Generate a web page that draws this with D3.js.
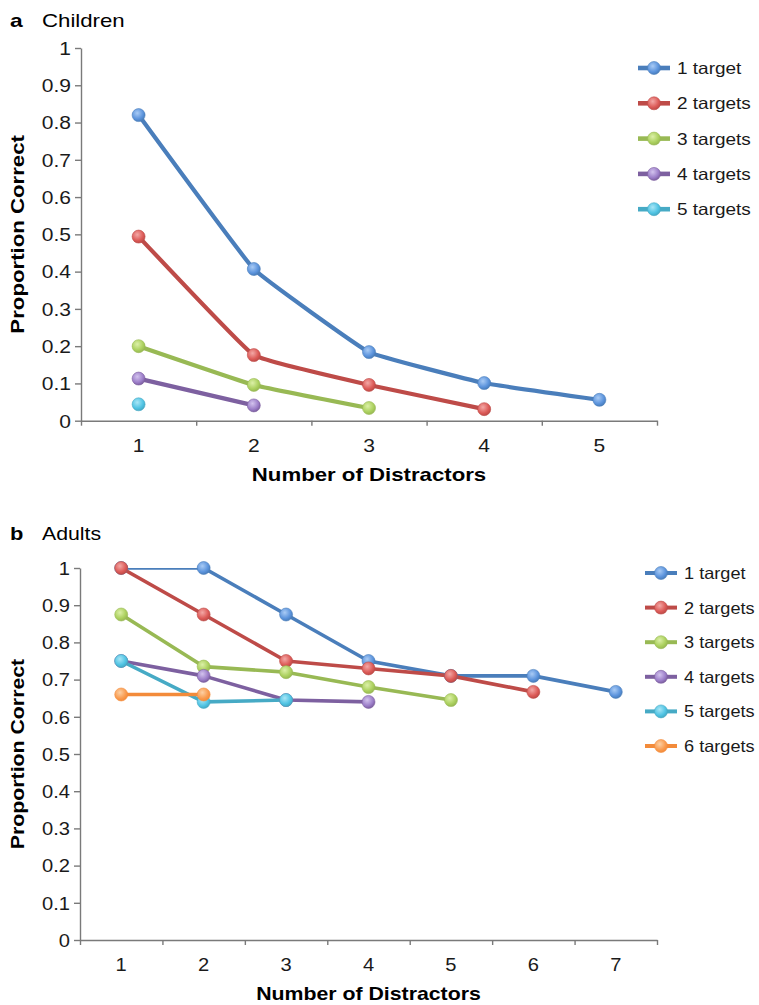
<!DOCTYPE html>
<html>
<head>
<meta charset="utf-8">
<script src="https://cdn.jsdelivr.net/npm/d3@7"></script>
<style>
  html, body { margin: 0; padding: 0; background: #fff; }
  svg { display: block; font-family: "Liberation Sans", Arial, sans-serif; }
</style>
</head>
<body>
<svg id="chart" width="759" height="1005"></svg>
<script>
// ---------- DATA ----------
const childCategories = [1, 2, 3, 4, 5];
const adultCategories = [1, 2, 3, 4, 5, 6, 7];
const yTicks = [0, 0.1, 0.2, 0.3, 0.4, 0.5, 0.6, 0.7, 0.8, 0.9, 1];

const childSeriesNames = ["1 target", "2 targets", "3 targets", "4 targets", "5 targets"];
const child1 = [0.82, 0.407, 0.184, 0.101, 0.056];
const child2 = [0.494, 0.176, 0.096, 0.031];
const child3 = [0.200, 0.096, 0.034];
const child4 = [0.113, 0.041];
const child5 = [0.044];

const adultSeriesNames = ["1 target", "2 targets", "3 targets", "4 targets", "5 targets", "6 targets"];
const adult1 = [1.0, 1.0, 0.875, 0.75, 0.71, 0.71, 0.667];
const adult2 = [1.0, 0.875, 0.75, 0.73, 0.71, 0.667];
const adult3 = [0.875, 0.735, 0.72, 0.68, 0.645];
const adult4 = [0.75, 0.71, 0.645, 0.64];
const adult5 = [0.75, 0.64, 0.645];
const adult6 = [0.66, 0.66];

const panelLetters = ["a", "b"];
const panelTitles = ["Children", "Adults"];
const xTitle = "Number of Distractors";
const yTitle = "Proportion Correct";

// ---------- STYLE ----------
const palette = [
  {line: "#4a7ebb", fill: "#5b93dc", light: "#a9cbf5"},
  {line: "#be4b48", fill: "#dc5a57", light: "#f3a8a6"},
  {line: "#98b954", fill: "#abd05e", light: "#dcf0a8"},
  {line: "#7d60a0", fill: "#9b7dc8", light: "#d3c3ee"},
  {line: "#46aac5", fill: "#4fc3e3", light: "#a9e6f6"},
  {line: "#f38b3a", fill: "#f99b4f", light: "#fcd0a4"}
];

const svg = d3.select("#chart");
const defs = svg.append("defs");
palette.forEach((p, i) => {
  const g = defs.append("radialGradient").attr("id", "mk" + i)
    .attr("cx", "40%").attr("cy", "35%").attr("r", "65%");
  g.append("stop").attr("offset", "0%").attr("stop-color", p.light);
  g.append("stop").attr("offset", "70%").attr("stop-color", p.fill);
  g.append("stop").attr("offset", "100%").attr("stop-color", p.line);
});

function widen(sel, k) {
  sel.each(function () {
    const w = this.getComputedTextLength();
    if (w > 0) d3.select(this).attr("textLength", w * k).attr("lengthAdjust", "spacingAndGlyphs");
  });
}

function drawPanel(cfg) {
  const {cats, series, names, left, right, top, bottom, lineW, curve, legend, idx} = cfg;
  const g = svg.append("g");

  const y = d3.scaleLinear().domain([0, 1]).range([bottom, top]);
  const xb = d3.scaleBand().domain(cats).range([left, right]).paddingInner(0).paddingOuter(0);
  const xEdge = d3.scaleLinear().domain([0.5, cats.length + 0.5]).range([left, right]);
  const cx = c => xb(c) + xb.bandwidth() / 2;

  defs.append("clipPath").attr("id", "clip" + idx)
    .append("rect").attr("x", left).attr("y", top).attr("width", right - left).attr("height", bottom - top + 10);

  const yAxis = d3.axisLeft(y).tickValues(yTicks)
    .tickFormat(d => (d === 0 ? "0" : d === 1 ? "1" : d3.format(".1f")(d)))
    .tickSize(6).tickSizeOuter(0).tickPadding(4);
  const ya = g.append("g").attr("transform", `translate(${left},0)`).call(yAxis);

  const xAxisTicks = d3.axisBottom(xEdge).tickValues(d3.range(0.5, cats.length + 1, 1))
    .tickFormat("").tickSize(5).tickSizeOuter(0);
  const xa = g.append("g").attr("transform", `translate(0,${bottom})`).call(xAxisTicks);
  const xAxisLabels = d3.axisBottom(xb).tickSize(0).tickPadding(19);
  const xl = g.append("g").attr("transform", `translate(0,${bottom})`).call(xAxisLabels);
  xl.select(".domain").remove();

  [ya, xa].forEach(a => {
    a.selectAll(".domain").attr("stroke", "#7a7a7a").attr("stroke-width", 1.4);
    a.selectAll(".tick line").attr("stroke", "#7a7a7a").attr("stroke-width", 1.4);
  });
  [ya, xl].forEach(a => a.selectAll("text").attr("font-size", 17.5).attr("fill", "#1a1a1a")
    .attr("font-family", "Liberation Sans, Arial, sans-serif"));
  ya.selectAll("text").attr("dy", "0.36em");

  const line = d3.line().x((d, i) => cx(cats[i])).y(d => y(d)).curve(curve);
  const lg = g.append("g").attr("clip-path", `url(#clip${idx})`);
  series.forEach((s, si) => {
    if (s.length > 1) {
      lg.append("path").attr("d", line(s)).attr("fill", "none")
        .attr("stroke", palette[si].line).attr("stroke-width", lineW)
        .attr("stroke-linejoin", "round").attr("stroke-linecap", "round");
    }
  });
  series.forEach((s, si) => {
    g.selectAll(null).data(s).enter().append("circle")
      .attr("cx", (d, i) => cx(cats[i])).attr("cy", d => y(d)).attr("r", 6.5)
      .attr("fill", `url(#mk${si})`).attr("stroke", palette[si].line).attr("stroke-width", 0.6);
  });

  g.append("text").attr("x", 10).attr("y", cfg.titleY).attr("font-size", 19).attr("font-weight", "bold").text(panelLetters[idx]);
  g.append("text").attr("x", 42).attr("y", cfg.titleY).attr("font-size", 18.5).text(panelTitles[idx]);
  g.append("text").attr("x", (left + right) / 2).attr("y", cfg.xTitleY).attr("text-anchor", "middle")
    .attr("font-size", 18.5).attr("font-weight", "bold").text(xTitle);
  g.append("text").attr("transform", `translate(24,${(top + bottom) / 2}) rotate(-90)`)
    .attr("text-anchor", "middle").attr("font-size", 18.5).attr("font-weight", "bold").text(yTitle);

  widen(g.selectAll("text"), cfg.widen);

  // legend (widened separately)
  const lgd = svg.append("g");
  names.forEach((n, i) => {
    const ly = legend.y0 + i * legend.dy;
    lgd.append("line").attr("x1", legend.x).attr("x2", legend.x + 32).attr("y1", ly).attr("y2", ly)
      .attr("stroke", palette[i].line).attr("stroke-width", lineW + 0.4);
    lgd.append("circle").attr("cx", legend.x + 16).attr("cy", ly).attr("r", 6.5)
      .attr("fill", `url(#mk${i})`).attr("stroke", palette[i].line).attr("stroke-width", 0.6);
    lgd.append("text").attr("x", legend.x + 39).attr("y", ly).attr("dy", "0.36em")
      .attr("font-size", legend.fs).attr("fill", "#1a1a1a").text(n);
  });
  widen(lgd.selectAll("text"), legend.widen);
}

drawPanel({
  idx: 0, cats: childCategories, series: [child1, child2, child3, child4, child5], names: childSeriesNames,
  left: 81, right: 657, top: 48, bottom: 420.7, lineW: 4.2, curve: d3.curveCardinal.tension(0.75),
  legend: {x: 638, y0: 68, dy: 35.3, fs: 16.5, widen: 1.15}, titleY: 27, xTitleY: 481, widen: 1.2
});
drawPanel({
  idx: 1, cats: adultCategories, series: [adult1, adult2, adult3, adult4, adult5, adult6], names: adultSeriesNames,
  left: 80, right: 657, top: 568, bottom: 940, lineW: 3.6, curve: d3.curveLinear,
  legend: {x: 645, y0: 573, dy: 34.6, fs: 16.5, widen: 1.1}, titleY: 540, xTitleY: 1000, widen: 1.15
});
</script>
</body>
</html>
